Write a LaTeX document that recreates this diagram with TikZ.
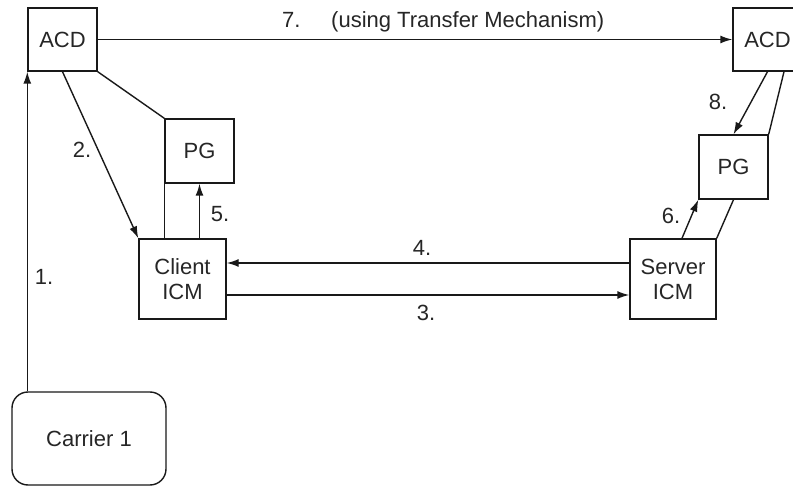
\documentclass[tikz,border=0pt]{standalone}
\usepackage{fontspec}
\setmainfont{Liberation Sans}
\usetikzlibrary{arrows.meta}
\begin{document}
\begin{tikzpicture}[x=1pt,y=-1pt,
  every node/.style={font=\fontsize{22}{26}\selectfont, text=black!85},
  box/.style={draw=black!90, line width=1.4pt, inner sep=0pt, align=center},
  lbl/.style={inner sep=0pt},
  ln/.style={line width=1.4pt, draw=black!90},
  arr/.style={ln, -{Latex[length=12pt,width=8pt]}}]
\path[use as bounding box] (0,0) rectangle (793,486);
\clip (0,0) rectangle (793,486);
% boxes
\node[box, minimum width=69pt, minimum height=63pt] (acdL) at (62.5,39.5) {ACD};
\node[box, minimum width=69pt, minimum height=64pt] (pgL) at (199.5,151) {PG};
\node[box, minimum width=87pt, minimum height=80pt] (client) at (182.5,279) {Client\\[-1pt]ICM};
\node[box, rounded corners=16pt, minimum width=154pt, minimum height=93pt] (carrier) at (89,438.5) {Carrier 1};
\node[box, minimum width=69pt, minimum height=63pt] (acdR) at (767.5,39.5) {ACD};
\node[box, minimum width=69pt, minimum height=64pt] (pgR) at (733.5,167) {PG};
\node[box, minimum width=86pt, minimum height=80pt] (server) at (673,279) {Server\\[-1pt]ICM};
% connectors
\draw[arr] (carrier.north -| acdL.south west) -- (acdL.south west);
\draw[arr] (acdL.south) -- (client.north west);
\draw[ln] (acdL.south east) -- (pgL.north west);
\draw[ln] (pgL.south west |- client.north) -- (pgL.south west);
\draw[arr] (pgL.south |- client.north) -- (pgL.south);
\draw[arr] ([yshift=16pt]server.west) -- ([yshift=16pt]server.west -| client.east);
\draw[arr] ([yshift=-16pt]client.east) -- ([yshift=-16pt]client.east -| server.west);
\draw[arr] (acdL.east) -- (acdR.west);
\draw[arr] (acdR.south) -- (pgR.north);
\draw[ln] ([xshift=16.5pt]acdR.south) -- (pgR.north east);
\draw[arr] ([xshift=9pt]server.north) -- (pgR.south west);
\draw[ln] (server.north east) -- (pgR.south);
% labels
\node[lbl] (l1) at (44,277) {1.};
\node[lbl] (l2) at (82,150) {2.};
\node[lbl] (l3) at (426,313) {3.};
\node[lbl] (l4) at (422,248) {4.};
\node[lbl] (l5) at (220,214) {5.};
\node[lbl] (l6) at (671,216) {6.};
\node[lbl, anchor=base west] (l7) at (282,28) {7.};
\node[lbl, anchor=base west] (l7b) at (331,28) {(using Transfer Mechanism)};
\node[lbl] (l8) at (718,102) {8.};
\end{tikzpicture}
\end{document}
